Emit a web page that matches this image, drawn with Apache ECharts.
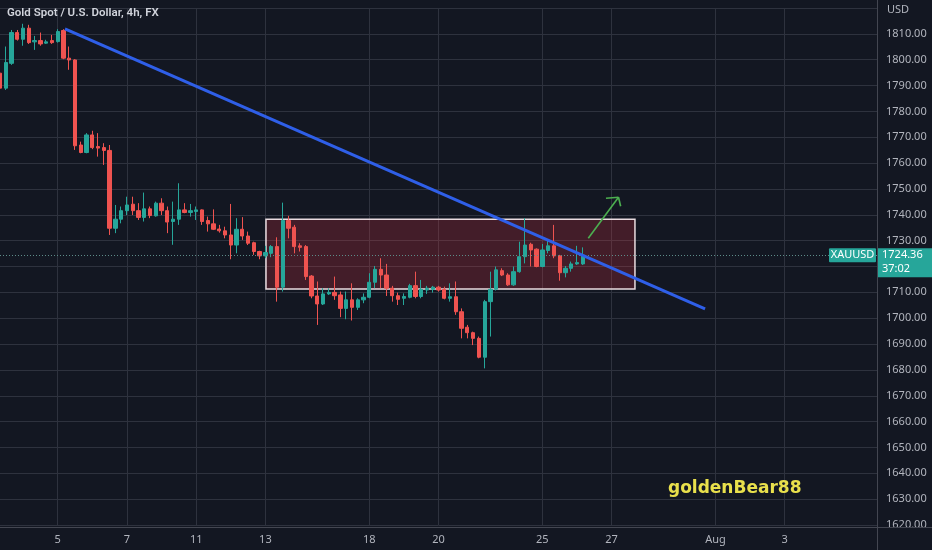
<!DOCTYPE html>
<html><head><meta charset="utf-8">
<script src="https://cdn.jsdelivr.net/npm/echarts/dist/echarts.min.js"></script>
<style>html,body{margin:0;padding:0;background:#131722}#c{width:932px;height:550px}</style>
</head><body><div id="c"></div>
<script>
// ---- data (4h candles) ----
const opens  = [1794.8,1789.0,1798.6,1810.5,1807.9,1812.2,1806.9,1807.4,1806.4,1807.4,1807.0,1811.3,1800.6,1799.9,1767.0,1764.1,1770.9,1766.4,1766.0,1764.9,
1734.8,1738.3,1741.6,1744.1,1741.6,1739.0,1742.3,1739.6,1744.5,1741.6,1737.4,1738.3,1741.9,1740.9,1741.3,1741.9,1737.8,1736.5,1734.5,1733.8,
1732.2,1728.3,1734.4,1731.8,1729.2,1725.8,1724.1,1725.1,1727.7,1712.0,1737.8,1735.2,1728.0,1727.7,1716.3,1708.6,1705.5,1709.4,1710.0,1709.0,
1703.8,1707.1,1704.2,1707.1,1708.1,1713.9,1718.9,1716.7,1711.6,1708.7,1707.7,1708.1,1712.6,1708.4,1710.9,1711.2,1712.0,1711.2,1707.7,1708.3,
1702.5,1696.5,1694.4,1692.2,1684.9,1706.4,1711.2,1718.4,1716.7,1712.9,1718.0,1723.8,1728.6,1726.7,1720.0,1726.2,1728.0,1724.1,1717.6,1719.3,
1721.0,1721.0];
const closes = [1789.0,1798.9,1810.5,1807.9,1812.2,1806.6,1807.4,1806.1,1806.9,1806.6,1810.9,1800.6,1799.9,1766.7,1764.1,1770.9,1766.0,1765.8,1764.9,1734.8,
1738.3,1741.6,1743.8,1741.6,1739.0,1742.3,1739.7,1744.5,1741.6,1737.2,1738.3,1741.9,1740.9,1741.6,1741.9,1737.4,1736.5,1734.4,1733.8,1732.2,
1728.3,1734.4,1731.8,1729.0,1725.8,1724.1,1725.4,1727.7,1712.0,1737.8,1734.8,1727.7,1727.4,1716.1,1708.6,1705.5,1709.4,1710.0,1708.7,1703.8,
1707.1,1704.2,1707.1,1708.1,1713.9,1718.9,1716.7,1711.6,1708.7,1707.3,1708.4,1712.6,1708.4,1711.2,1711.6,1712.0,1710.9,1707.7,1708.3,1702.5,
1696.1,1694.4,1692.2,1684.9,1706.4,1711.2,1718.7,1716.7,1712.9,1718.0,1723.8,1728.3,1726.4,1720.0,1726.4,1728.0,1724.1,1717.6,1719.3,1721.0,
1721.5,1724.36];
const lows   = [1784.4,1788.3,1798.0,1807.4,1805.4,1806.1,1803.8,1805.4,1806.1,1806.1,1806.6,1800.2,1796.1,1765.1,1763.8,1763.8,1765.4,1762.5,1759.3,1732.2,
1732.9,1736.7,1739.9,1739.9,1738.0,1737.4,1738.7,1739.3,1739.9,1732.9,1728.4,1736.1,1740.6,1739.3,1738.0,1736.1,1733.5,1734.1,1733.1,1730.9,
1722.8,1725.1,1730.3,1728.3,1724.5,1722.8,1723.2,1723.6,1706.4,1710.3,1730.9,1725.1,1725.8,1714.8,1707.7,1697.4,1705.1,1709.0,1707.1,1700.4,
1699.6,1699.1,1703.2,1705.8,1707.7,1711.6,1711.6,1708.6,1706.4,1705.1,1705.1,1707.7,1707.7,1707.7,1709.4,1709.9,1710.3,1707.3,1706.4,1701.3,
1692.2,1692.2,1689.6,1684.5,1680.6,1692.9,1710.7,1716.3,1712.5,1712.5,1717.6,1721.2,1720.0,1719.7,1719.7,1725.1,1723.2,1714.5,1715.8,1718.0,
1720.6,1720.6];
const highs  = [1796.7,1805.1,1811.5,1811.5,1813.9,1813.5,1809.2,1810.5,1807.7,1809.6,1811.8,1811.8,1805.1,1800.2,1768.3,1771.6,1772.5,1771.6,1767.7,1767.0,
1743.8,1743.2,1747.0,1747.0,1744.5,1748.6,1743.2,1745.1,1746.4,1743.2,1745.1,1752.2,1744.5,1744.2,1743.2,1742.1,1739.3,1742.1,1736.1,1735.4,
1744.2,1738.7,1739.1,1733.5,1729.6,1726.1,1728.0,1728.3,1731.3,1744.7,1739.6,1736.1,1729.0,1728.3,1716.7,1714.2,1711.6,1711.6,1716.1,1710.3,
1710.3,1713.5,1707.7,1709.6,1717.4,1720.2,1723.2,1721.0,1712.5,1709.9,1709.6,1713.3,1718.0,1714.8,1712.5,1712.5,1712.5,1712.2,1713.5,1714.2,
1703.8,1697.4,1694.8,1692.9,1707.1,1718.0,1720.0,1719.3,1717.4,1720.0,1729.6,1738.7,1729.2,1727.0,1728.7,1730.5,1736.1,1724.5,1720.2,1721.9,
1728.0,1727.4];

// time axis: one slot per 4h bar, labelled slots
const slotCount = 153;
const tickIndex  = [10, 22, 34, 46, 64, 76, 94, 106, 124, 136];
const tickLabels = ['5', '7', '11', '13', '18', '20', '25', '27', 'Aug', '3'];

// price axis
const priceMin = 1620, priceMax = 1820, priceStep = 10;

// drawings (in bar-index / price units)
const trendLine  = [[11.26, 1811.9], [122.2, 1703.6]];
const zoneBox    = [[46.1, 1738.3], [110.05, 1711.3]];
const arrowShaft = [[101.96, 1730.9], [107.2, 1746.8]];
const arrowWingA = [[105.03, 1746.4], [107.2, 1746.8]];
const arrowWingB = [[107.57, 1743.3], [107.2, 1746.8]];

const lastPrice = 1724.36;
const countdown = '37:02';
const symbolName = 'XAUUSD';
const titleText = 'Gold Spot / U.S. Dollar, 4h, FX';
const watermark = 'goldenBear88';

// ---- build ----
const categories = [];
for (let i = 0; i < slotCount; i++) categories.push(String(i));
const labelOf = {};
tickIndex.forEach((k, j) => { labelOf[k] = tickLabels[j]; });
const candles = opens.map((o, i) => [o, closes[i], lows[i], highs[i]]);

const UP = '#26a69a', DOWN = '#ef5350';
const GRID = '#2e323e';
const TXT = '#b2b5be';
const FONT = '"Noto Sans", sans-serif';

const chart = echarts.init(document.getElementById('c'), null, {renderer: 'canvas'});
const option = {
  backgroundColor: '#131722',
  animation: false,
  title: {
    text: titleText, left: 7, top: 7, padding: 0,
    textStyle: {color: '#d1d4dc', fontSize: 11.5, fontWeight: 600, fontFamily: 'Roboto, sans-serif'}
  },
  grid: {left: 0, right: 55, top: 8, bottom: 25, outerBoundsMode: 'none'},
  xAxis: [{
    type: 'category', data: categories, boundaryGap: false,
    axisLine: {show: false}, axisTick: {show: false},
    axisLabel: {
      interval: (i) => labelOf[i] !== undefined,
      formatter: (v, i) => labelOf[i] || '',
      color: TXT, fontSize: 11, fontFamily: FONT, margin: 9
    },
    splitLine: {show: true, interval: (i) => labelOf[i] !== undefined, lineStyle: {color: GRID, width: 1}}
  }, {
    type: 'value', min: 0, max: slotCount - 1, show: false
  }],
  yAxis: [{
    type: 'value', position: 'right', min: priceMin, max: priceMax, interval: priceStep,
    axisLine: {show: false}, axisTick: {show: false},
    axisLabel: {
      color: TXT, fontSize: 11, fontFamily: FONT, margin: 9,
      formatter: (v) => v >= priceMax ? '' : v.toFixed(2)
    },
    splitLine: {show: true, lineStyle: {color: GRID, width: 1}}
  }],
  series: [{
    type: 'candlestick', xAxisIndex: 0, yAxisIndex: 0,
    data: candles, barWidth: 3.8, clip: false,
    itemStyle: {color: UP, color0: DOWN, borderColor: UP, borderColor0: DOWN, borderWidth: 1},
    markLine: {
      silent: true, symbol: ['none', 'none'], label: {show: false},
      lineStyle: {type: [1, 2], color: '#5d8c89', width: 1},
      data: [{yAxis: lastPrice}]
    },
    z: 3
  }, {
    type: 'line', xAxisIndex: 1, yAxisIndex: 0,
    data: trendLine, symbol: 'none', silent: true,
    lineStyle: {color: '#2f5fe8', width: 3}, z: 5,
    markArea: {
      silent: true,
      itemStyle: {color: 'rgba(242, 54, 69, 0.22)', borderColor: '#e9dce0', borderWidth: 1.5},
      data: [[{coord: zoneBox[0]}, {coord: zoneBox[1]}]]
    }
  }, {
    type: 'line', xAxisIndex: 1, yAxisIndex: 0, data: [], silent: true,
    markLine: {
      silent: true, symbol: ['none', 'none'], label: {show: false},
      lineStyle: {type: 'solid', color: '#4caf50', width: 1.6},
      data: [
        [{coord: arrowShaft[0]}, {coord: arrowShaft[1]}],
        [{coord: arrowWingA[0]}, {coord: arrowWingA[1]}],
        [{coord: arrowWingB[0]}, {coord: arrowWingB[1]}]
      ]
    }
  }]
};
chart.setOption(option);

const py = chart.convertToPixel({yAxisIndex: 0}, lastPrice);
chart.setOption({
  graphic: [
    {type: 'line', shape: {x1: 877.5, y1: 0, x2: 877.5, y2: 550}, style: {stroke: '#434651', lineWidth: 1}, z: 10},
    {type: 'rect', shape: {x: 878, y: 528, width: 54, height: 22}, style: {fill: '#131722'}, z: 9},
    {type: 'line', shape: {x1: 0, y1: 527.5, x2: 932, y2: 527.5}, style: {stroke: '#434651', lineWidth: 1}, z: 10},
    {type: 'text', left: 887, top: 4, style: {text: 'USD', fill: TXT, font: '11px ' + FONT}, z: 10},
    {type: 'rect', shape: {x: 829, y: py - 7, width: 47, height: 14, r: 1}, style: {fill: UP}, z: 10},
    {type: 'text', x: 852.5, y: py, style: {text: symbolName, fill: '#ffffff', font: '11px ' + FONT, align: 'center', verticalAlign: 'middle'}, z: 11},
    {type: 'rect', shape: {x: 878, y: py - 7, width: 54, height: 29}, style: {fill: UP}, z: 10},
    {type: 'text', x: 882, y: py, style: {text: lastPrice.toFixed(2), fill: '#ffffff', font: '11px ' + FONT, verticalAlign: 'middle'}, z: 11},
    {type: 'text', x: 882, y: py + 14, style: {text: countdown, fill: '#ffffff', font: '11px ' + FONT, verticalAlign: 'middle'}, z: 11},
    {type: 'text', left: 668, top: 480, style: {text: watermark, fill: '#e9e04c', font: 'bold 17px "DejaVu Sans", sans-serif'}, z: 10}
  ]
});
</script>
</body></html>
